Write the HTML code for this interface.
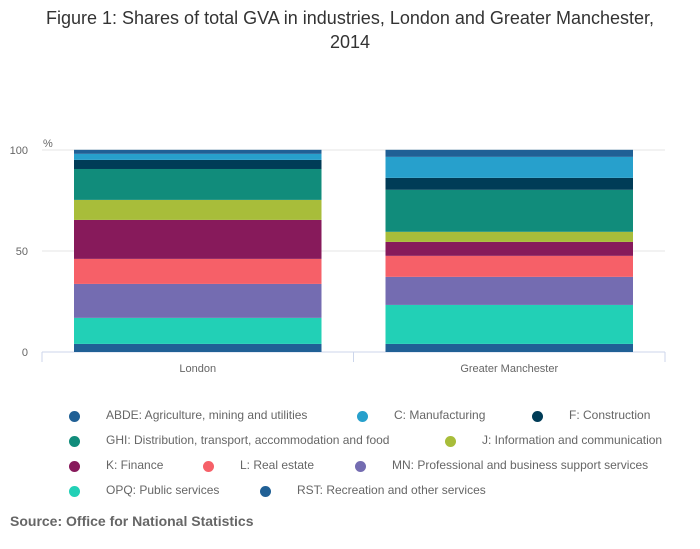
<!DOCTYPE html>
<html><head><meta charset="utf-8"><style>
body{margin:0;background:#fff;font-family:"Liberation Sans",sans-serif;}
#wrap{position:relative;width:700px;height:549px;overflow:hidden;}
.title{position:absolute;left:0;width:700px;top:6px;text-align:center;font-size:18px;color:#333;line-height:24px;}
.leg{position:absolute;font-size:12px;color:#666;white-space:nowrap;}
.dot{position:absolute;width:11px;height:11px;border-radius:50%;}
.src{position:absolute;left:10px;top:513px;font-size:14px;font-weight:bold;color:#666;}
</style></head><body>
<div id="wrap">
<div class="title">Figure 1: Shares of total GVA in industries, London and Greater Manchester,<br>2014</div>
<svg id="plot" width="700" height="400" style="position:absolute;left:0;top:0"></svg>
<div id="legend"></div>
<div class="src">Source: Office for National Statistics</div>
</div>
<script>
const categories=["London","Greater Manchester"];
const seriesNames=["RST: Recreation and other services","OPQ: Public services","MN: Professional and business support services","L: Real estate","K: Finance","J: Information and communication","GHI: Distribution, transport, accommodation and food","F: Construction","C: Manufacturing","ABDE: Agriculture, mining and utilities"];
const londonValues=[4.0,12.9,16.8,12.4,19.3,9.9,15.3,4.5,3.0,2.0];
const manchesterValues=[4.0,19.3,13.9,10.4,6.9,5.0,20.8,5.9,10.4,3.5];
const yTicks=[0,50,100];
const colors=["#206095","#22d0b6","#746cb1","#f66068","#871a5b","#a8bd3a","#118c7b","#003c57","#27a0cc","#206095"];
const NS="http://www.w3.org/2000/svg";
const svg=document.getElementById('plot');
const y0=352,y100=150,xL=42,xR=665;
const yScale=v=>y0-(v/100)*(y0-y100);
const bandW=(xR-xL)/categories.length;
const xBand=i=>xL+i*bandW;
const barPad=32;
function mk(t,a){const e=document.createElementNS(NS,t);for(const k in a)e.setAttribute(k,a[k]);svg.appendChild(e);return e;}
yTicks.forEach(t=>{
  const g=mk('line',{x1:xL,x2:xR,y1:yScale(t),y2:yScale(t),stroke:t===0?'#ccd6eb':'#e6e6e6','stroke-width':1});
  
  
  const tx=mk('text',{x:28,y:yScale(t)+4,'text-anchor':'end','font-size':11,fill:'#666','font-family':'Liberation Sans,sans-serif'});
  tx.textContent=t;
  
  
});
const pct=mk('text',{x:43,y:147,'font-size':11,fill:'#666','font-family':'Liberation Sans,sans-serif'});
pct.textContent='%';


const data=[londonValues,manchesterValues];
categories.forEach((c,i)=>{
  let cum=0;
  data[i].forEach((v,j)=>{
    const r=mk('rect',{x:xBand(i)+barPad,width:bandW-2*barPad,y:yScale(cum+v),height:yScale(cum)-yScale(cum+v),fill:colors[j]});
    
    
    cum+=v;
  });
  const tx=mk('text',{x:xBand(i)+bandW/2,y:372,'text-anchor':'middle','font-size':11,fill:'#666','font-family':'Liberation Sans,sans-serif'});
  tx.textContent=c;
  
  
});
for(let i=0;i<=categories.length;i++){
  const tk=mk('line',{x1:xBand(i),x2:xBand(i),y1:y0,y2:y0+10,stroke:'#ccd6eb'});
  
  
}
const legPos=[[9,74,416],[8,362,416],[7,537,416],[6,74,441],[5,450,441],[4,74,466],[3,208,466],[2,360,466],[1,74,491],[0,265,491]];
const leg=document.getElementById('legend');
legPos.forEach(([j,x,y])=>{
  const d=document.createElement('div');
  d.className='dot';d.style.left=(x-5.5)+'px';d.style.top=(y-5.5)+'px';d.style.background=colors[j];
  
  
  leg.appendChild(d);
  const t=document.createElement('div');
  t.className='leg';t.style.left=(x+32)+'px';t.style.top=(y-8)+'px';t.textContent=seriesNames[j];
  
  
  leg.appendChild(t);
});
</script>
</body></html>
